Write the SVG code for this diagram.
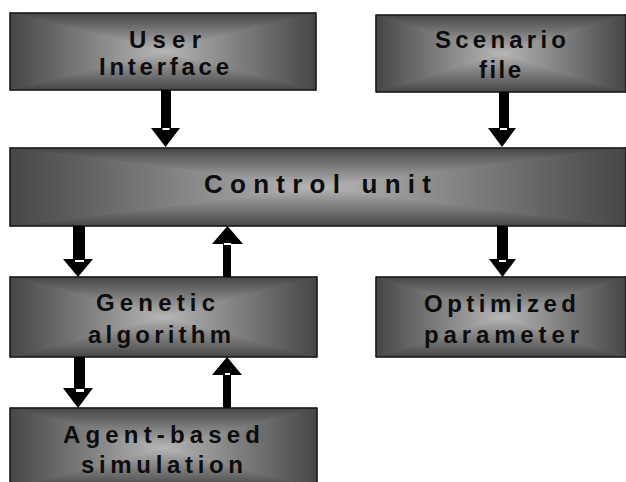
<svg xmlns="http://www.w3.org/2000/svg" width="626" height="482" viewBox="0 0 626 482">
<defs>
<linearGradient id="gT" x1="0" y1="0" x2="0" y2="1"><stop offset="0" stop-color="#464646"/><stop offset="1" stop-color="#b6b6b6"/></linearGradient>
<linearGradient id="gB" x1="0" y1="0" x2="0" y2="1"><stop offset="0" stop-color="#b6b6b6"/><stop offset="1" stop-color="#464646"/></linearGradient>
<linearGradient id="gL" x1="0" y1="0" x2="1" y2="0"><stop offset="0" stop-color="#464646"/><stop offset="1" stop-color="#b6b6b6"/></linearGradient>
<linearGradient id="gR" x1="0" y1="0" x2="1" y2="0"><stop offset="0" stop-color="#b6b6b6"/><stop offset="1" stop-color="#464646"/></linearGradient>
</defs>
<style>
.t{fill:url(#gT);stroke:url(#gT)}.b{fill:url(#gB);stroke:url(#gB)}.l{fill:url(#gL);stroke:url(#gL)}.r{fill:url(#gR);stroke:url(#gR)}
.t,.b,.l,.r{stroke-width:1;stroke-linejoin:round}
.frame{fill:none;stroke:#111;stroke-width:1.3}
.lbl{font-family:"Liberation Sans",Arial,sans-serif;font-weight:bold;font-size:24px;fill:#0d0d0d;text-anchor:middle}
.big{font-size:26px}
.arr{fill:#000}
.gap{fill:#fff}
</style>
<rect width="626" height="482" fill="#fff"/>

<g id="user-interface">
<polygon class="l" points="10,13 10,90 163,51.5"/>
<polygon class="r" points="316,13 316,90 163,51.5"/>
<polygon class="t" points="10,13 316,13 163,51.5"/>
<polygon class="b" points="10,90 316,90 163,51.5"/>
<rect class="frame" x="10" y="13" width="306" height="77"/>
<text class="lbl" x="165" y="48" textLength="72" lengthAdjust="spacing">User</text>
<text class="lbl" x="164" y="75" textLength="130" lengthAdjust="spacing">Interface</text>
</g>

<g id="scenario-file">
<polygon class="l" points="376,15 376,92 501,53.5"/>
<polygon class="r" points="626,15 626,92 501,53.5"/>
<polygon class="t" points="376,15 626,15 501,53.5"/>
<polygon class="b" points="376,92 626,92 501,53.5"/>
<rect class="frame" x="376" y="15" width="250" height="77"/>
<text class="lbl" x="500.5" y="48" textLength="131" lengthAdjust="spacing">Scenario</text>
<text class="lbl" x="500" y="78" textLength="42" lengthAdjust="spacing">file</text>
</g>

<g id="control-unit">
<polygon class="l" points="10,148 10,226 318,187"/>
<polygon class="r" points="626,148 626,226 318,187"/>
<polygon class="t" points="10,148 626,148 318,187"/>
<polygon class="b" points="10,226 626,226 318,187"/>
<rect class="frame" x="10" y="148" width="616" height="78"/>
<text class="lbl big" x="317.5" y="193" textLength="227" lengthAdjust="spacing">Control unit</text>
</g>

<g id="genetic-algorithm">
<polygon class="l" points="10,277 10,357 163.5,317"/>
<polygon class="r" points="317,277 317,357 163.5,317"/>
<polygon class="t" points="10,277 317,277 163.5,317"/>
<polygon class="b" points="10,357 317,357 163.5,317"/>
<rect class="frame" x="10" y="277" width="307" height="80"/>
<text class="lbl" x="155.5" y="311" textLength="119" lengthAdjust="spacing">Genetic</text>
<text class="lbl" x="159.5" y="343" textLength="143" lengthAdjust="spacing">algorithm</text>
</g>

<g id="optimized-parameter">
<polygon class="l" points="376,277 376,357 501,317"/>
<polygon class="r" points="626,277 626,357 501,317"/>
<polygon class="t" points="376,277 626,277 501,317"/>
<polygon class="b" points="376,357 626,357 501,317"/>
<rect class="frame" x="376" y="277" width="250" height="80"/>
<text class="lbl" x="500" y="312" textLength="152" lengthAdjust="spacing">Optimized</text>
<text class="lbl" x="501.5" y="343" textLength="155" lengthAdjust="spacing">parameter</text>
</g>

<g id="agent-based-simulation">
<polygon class="l" points="10,408 10,488 163.5,448"/>
<polygon class="r" points="317,408 317,488 163.5,448"/>
<polygon class="t" points="10,408 317,408 163.5,448"/>
<polygon class="b" points="10,488 317,488 163.5,448"/>
<rect class="frame" x="10" y="408" width="307" height="80"/>
<text class="lbl" x="161.5" y="443" textLength="197" lengthAdjust="spacing">Agent-based</text>
<text class="lbl" x="162" y="473" textLength="162" lengthAdjust="spacing">simulation</text>
</g>

<g id="connectors">
<polygon class="arr" points="161,90 171,90 171,128 180,128 165.5,147 151,128 161,128"/>
<rect class="gap" x="162.5" y="128" width="7" height="2"/>
<polygon class="arr" points="499,92 509,92 509,128 516,128 502,147 488,128 499,128"/>
<rect class="gap" x="500" y="128" width="7" height="2"/>
<polygon class="arr" points="73,226 85,226 85,259 93,259 78,277 63,259 73,259"/>
<rect class="gap" x="75" y="260" width="9" height="2"/>
<polygon class="arr" points="223,277 231,277 231,244 243,244 227.5,226 212,244 223,244"/>
<rect class="gap" x="224" y="243" width="7" height="2"/>
<polygon class="arr" points="497,226 508,226 508,259 516,259 502.5,277 489,259 497,259"/>
<rect class="gap" x="499" y="260" width="7" height="2"/>
<polygon class="arr" points="74,357 85,357 85,388 93,388 78,408 63,388 74,388"/>
<rect class="gap" x="76" y="389" width="8" height="3"/>
<polygon class="arr" points="223,408 231,408 231,375 242,375 227,357 212,375 223,375"/>
<rect class="gap" x="225" y="373" width="5" height="2"/>
</g>
</svg>
